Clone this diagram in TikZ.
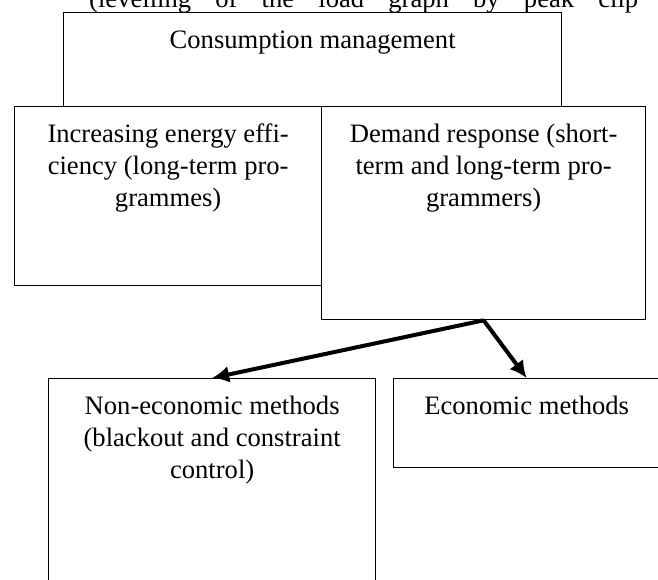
\documentclass[tikz,border=0pt]{standalone}
\usepackage{fontspec}
\setmainfont{Liberation Serif}
\usetikzlibrary{arrows.meta,calc}

\begin{document}
\begin{tikzpicture}[x=1pt,y=-1pt]
\tikzset{boxline/.style={draw,line width=1.3pt,inner sep=0pt,anchor=north west}};
\tikzset{boxtext/.style={anchor=base,inner sep=0pt,align=center,font=\fontsize{26.6}{32}\selectfont}};
\tikzset{thickarrow/.style={line width=4pt,-{Latex[length=17pt,width=17pt]}}};

\pgfmathsetmacro{\picwd}{658};
\pgfmathsetmacro{\picht}{579};
\pgfmathsetmacro{\rowone}{12};
\pgfmathsetmacro{\rowtwo}{106};
\pgfmathsetmacro{\rowthree}{378};
\pgfmathsetmacro{\lift}{36};
\pgfmathsetmacro{\liftthree}{\lift+2*32};

\useasboundingbox (0,0) rectangle (\picwd,\picht);
\clip (0,0) rectangle (\picwd,\picht);

% line cut off above the picture
\node [boxtext, anchor=base west] (lead) at (89,7) {\makebox[549pt][s]{(levelling of the load graph by peak clip}};

% boxes
\node [boxline, minimum width=498pt, minimum height=94pt] (cons) at (63,\rowone) {};
\node [boxline, minimum width=307pt, minimum height=179pt] (effic) at (14,\rowtwo) {};
\node [boxline, minimum width=324pt, minimum height=213pt] (demand) at (321,\rowtwo) {};
\node [boxline, minimum width=327pt, minimum height=222pt] (noneco) at (48,\rowthree) {};
\node [boxline, minimum width=266pt, minimum height=89pt] (eco) at (393,\rowthree) {};

% texts (base = last line)
\node [boxtext] (cons-t) at ($ (cons.north)+(0,\lift) $) {Consumption management};
\node [boxtext] (effic-t) at ($ (effic.north)+(0,\liftthree) $) {Increasing energy effi-\\ciency (long-term pro-\\grammes)};
\node [boxtext] (demand-t) at ($ (demand.north)+(0,\liftthree) $) {Demand response (short-\\term and long-term pro-\\grammers)};
\node [boxtext] (noneco-t) at ($ (noneco.north)+(0,\liftthree) $) {Non-economic methods\\(blackout and constraint\\control)};
\node [boxtext] (eco-t) at ($ (eco.north)+(0,\lift) $) {Economic methods};

\draw [thickarrow] (demand.south) -- (noneco.north);
\draw [thickarrow] (demand.south) -- (eco.north);
\end{tikzpicture}
\end{document}
